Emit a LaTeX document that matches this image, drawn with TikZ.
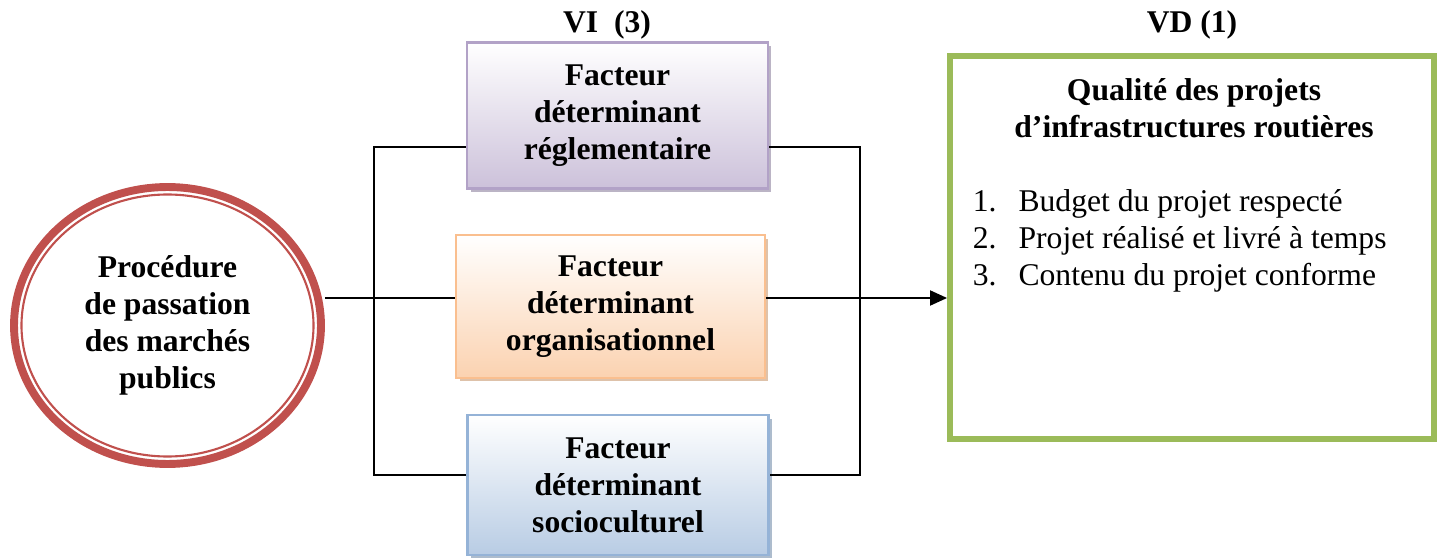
\documentclass[tikz,border=0pt]{standalone}
\usepackage{fontspec}
\setmainfont{Liberation Serif}
\usepackage{tikz}
\usetikzlibrary{positioning,calc}
\usetikzlibrary{arrows.meta}
\usetikzlibrary{shapes.geometric}
\usetikzlibrary{shadows}

\definecolor{procred}{RGB}{192,80,77}
\definecolor{violetline}{RGB}{178,162,199}
\definecolor{violetfill}{RGB}{204,193,218}
\definecolor{orangeline}{RGB}{250,191,143}
\definecolor{orangefill}{RGB}{251,210,176}
\definecolor{blueline}{RGB}{149,179,215}
\definecolor{bluefill}{RGB}{184,204,228}
\definecolor{qualgreen}{RGB}{155,187,89}

\tikzset{
  factbox/.style={draw, line width=1.2pt, minimum width=6.02cm, minimum height=2.92cm,
    align=center, font=\bfseries, top color=white},
  link/.style={line width=1.1pt, black}
}

\begin{document}
\fontsize{18}{21}\selectfont
\begin{tikzpicture}[x=0.02cm, y=-0.02cm]
  \useasboundingbox (0,0) rectangle (1439,560);
  % \draw[step=100, gray!20!white, very thin] (0,0) grid (1439,560);

  \node[ellipse, draw=procred, line width=4.5pt, minimum width=6.14cm, minimum height=5.54cm,
        align=center, font=\bfseries] at (167.5,325.5) (proc) {Procédure\\de passation\\des marchés\\publics};
  \draw[procred, line width=1.2pt] (proc.center) ellipse [x radius=146, y radius=131];

  \node[factbox, draw=violetline, bottom color=violetfill,
        drop shadow={shadow xshift=0.07cm, shadow yshift=-0.07cm, fill=violetline!80!black, opacity=0.6}]
        at (617.5,115.5) (regl) {Facteur\\déterminant\\réglementaire};
  \node[factbox, draw=orangeline, bottom color=orangefill, minimum width=6.18cm, minimum height=2.86cm,
        drop shadow={shadow xshift=0.07cm, shadow yshift=-0.07cm, fill=orangeline!80!black, opacity=0.6}]
        at (610.5,306.5) (orga) {Facteur\\déterminant\\organisationnel};
  \node[factbox, draw=blueline, bottom color=bluefill, minimum height=2.8cm,
        drop shadow={shadow xshift=0.07cm, shadow yshift=-0.07cm, fill=blueline!80!black, opacity=0.6}]
        at (618,485) (soci) {Facteur\\déterminant\\socioculturel};

  \node[font=\bfseries] at (607,25) (vi) {VI\ \ (3)};
  \node[font=\bfseries] at (1192,25) (vd) {VD (1)};

  \node[draw=qualgreen, line width=3.4pt, minimum width=9.68cm, minimum height=7.66cm] at (1192,247.5) (qual) {};
  \node[font=\bfseries, align=center] at (1194,108) (qtitle) {Qualité des projets\\d’infrastructures routières};
  \node[anchor=west, align=left] at (962,241) (qlist)
    {\makebox[26pt][l]{1.}Budget du projet respecté\\
     \makebox[26pt][l]{2.}Projet réalisé et livré à temps\\
     \makebox[26pt][l]{3.}Contenu du projet conforme};

  \coordinate (lt) at (374,147);
  \coordinate (lb) at (374,475);
  \coordinate (rt) at (860,147);
  \coordinate (rb) at (860,475);

  \draw[link] (proc.east |- 0,298) -- (orga.west |- 0,298);
  \draw[link] (regl.west |- lt) -- (lt) -- (lb) -- (soci.west |- lb);
  \draw[link] (regl.east |- rt) -- (rt) -- (rb) -- (soci.east |- rb);
  \draw[link, -{Triangle[length=0.34cm, width=0.3cm]}] (orga.east |- 0,298) -- (qual.west |- 0,298);

\end{tikzpicture}
\end{document}
